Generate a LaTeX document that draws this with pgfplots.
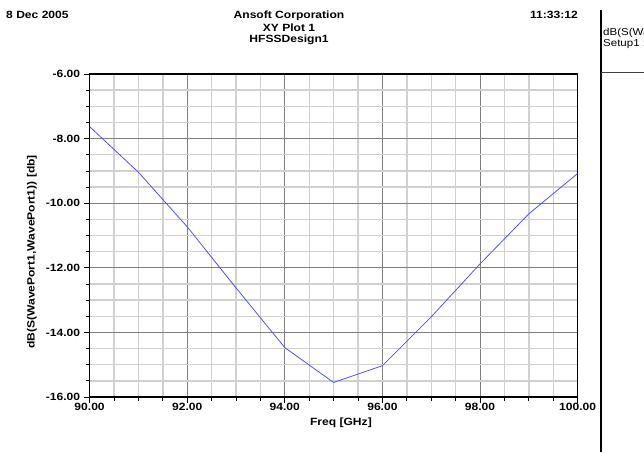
\documentclass[border=0pt]{standalone}
\usepackage{fontspec}
\setmainfont{Liberation Sans}
\newfontfamily\ansoft[FakeStretch=1.15]{Liberation Sans}
\usepackage{pgfplots}
\pgfplotsset{compat=1.18}
\definecolor{majgrid}{RGB}{128,128,128}
\definecolor{mingrid}{RGB}{208,208,208}
\definecolor{trace}{RGB}{80,80,255}
\newcommand{\lbl}{\ansoft\bfseries\fontsize{10.5}{12}\selectfont}
\newcommand{\leg}{\ansoft\fontsize{10}{12}\selectfont}

\begin{document}
\begin{tikzpicture}[x=1pt,y=1pt]
\useasboundingbox (0,0) rectangle (644,-452);
% header
\node[anchor=base west, inner sep=0] at (6,-19) {\lbl 8 Dec 2005};
\node[anchor=base, inner sep=0] at (289,-19) {\lbl Ansoft Corporation};
\node[anchor=base, inner sep=0] at (289,-31) {\lbl XY Plot 1};
\node[anchor=base, inner sep=0] at (289,-43) {\lbl HFSSDesign1};
\node[anchor=base east, inner sep=0] at (578,-19) {\lbl 11:33:12};
% legend panel at the right edge (cut off by the page, as in the original)
\draw[line width=2pt] (601,-10) -- (601,-452);
\draw[line width=1pt, black!75] (601,-72) -- (644,-72);
\node[anchor=base west, inner sep=0] at (603,-36) {\leg dB(S(WavePort1,WavePort1))};
\node[anchor=base west, inner sep=0] at (603,-47) {\leg Setup1 : Sweep1};

\begin{axis}[
    at={(89.6pt,-397pt)}, anchor=south west,
    scale only axis, width=488pt, height=323pt,
    xmin=90, xmax=100, ymin=-16, ymax=-6,
    xtick={90,92,...,100}, ytick={-16,-14,...,-6},
    minor x tick num=3, minor y tick num=3,
    grid=both,
    major grid style={majgrid, line width=1pt},
    minor grid style={mingrid, line width=1.4pt},
    tick pos=left, tick align=outside,
    major tick length=6pt, minor tick length=4pt,
    tick style={black, line width=0.8pt},
    axis line style={black, line width=1.2pt},
    /pgf/number format/assume math mode=true,
    /pgf/number format/.cd, fixed, fixed zerofill, precision=2,
    /pgfplots/.cd,
    ticklabel style={font=\lbl},
    xticklabel style={yshift=3pt},
    xlabel={Freq [GHz]},
    ylabel={dB(S(WavePort1,WavePort1)) [db]},
    xlabel style={font=\lbl, at={(axis description cs:0.515,0)}, anchor=base, yshift=-28pt},
    ylabel style={font=\lbl, at={(axis description cs:-0.118,0.449)}, anchor=center},
]
\addplot[color=trace, line width=0.8pt] coordinates {
(90,-7.63) (91,-9.04) (92,-10.73) (93,-12.62) (94,-14.47) (95,-15.55)
(96,-15.03) (97,-13.52) (98,-11.88) (99,-10.33) (100,-9.08)};
\end{axis}
\end{tikzpicture}
\end{document}
